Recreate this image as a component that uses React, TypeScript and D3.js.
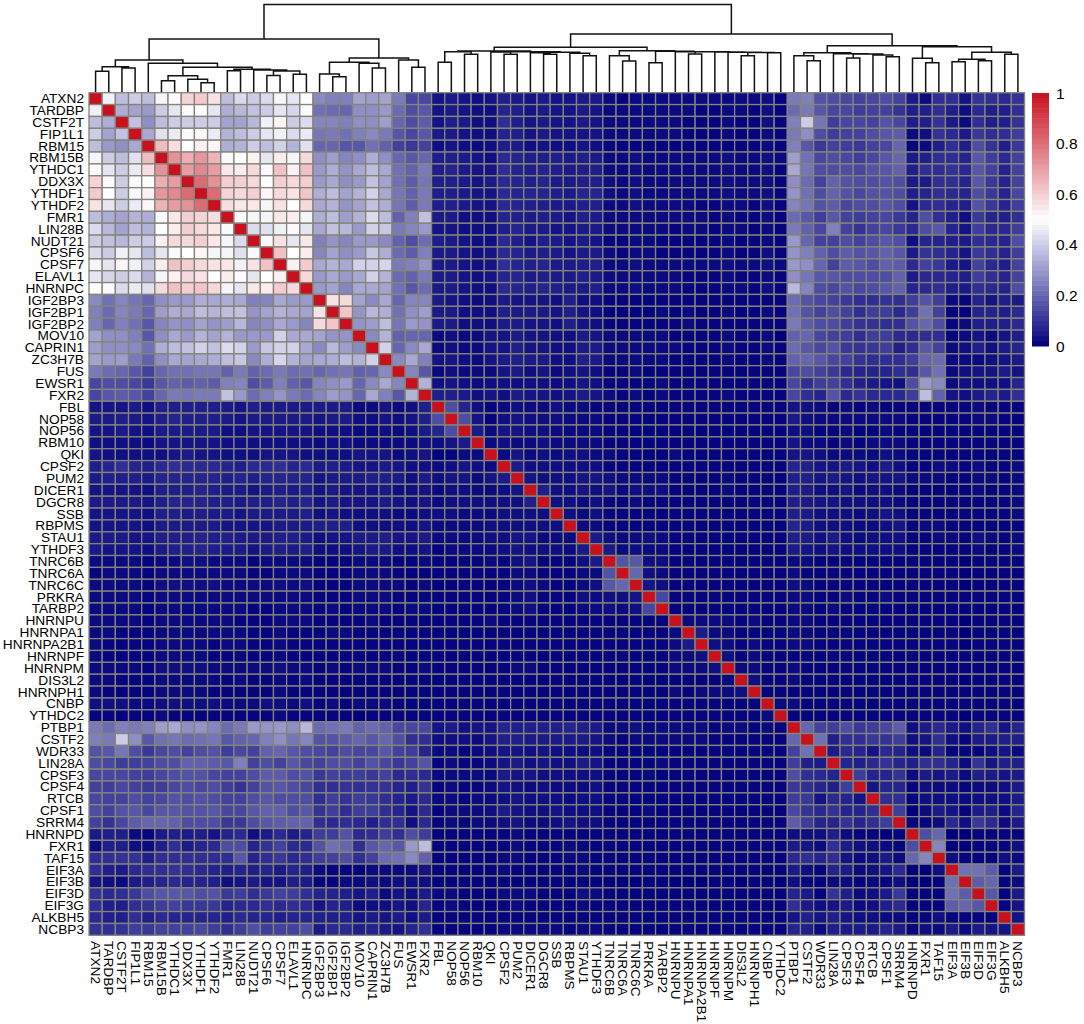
import React from 'react';
import * as d3 from 'd3';

const labels = [
  'ATXN2', 'TARDBP', 'CSTF2T', 'FIP1L1', 'RBM15', 'RBM15B', 'YTHDC1', 'DDX3X', 'YTHDF1', 'YTHDF2',
  'FMR1', 'LIN28B', 'NUDT21', 'CPSF6', 'CPSF7', 'ELAVL1', 'HNRNPC', 'IGF2BP3', 'IGF2BP1', 'IGF2BP2',
  'MOV10', 'CAPRIN1', 'ZC3H7B', 'FUS', 'EWSR1', 'FXR2', 'FBL', 'NOP58', 'NOP56', 'RBM10',
  'QKI', 'CPSF2', 'PUM2', 'DICER1', 'DGCR8', 'SSB', 'RBPMS', 'STAU1', 'YTHDF3', 'TNRC6B',
  'TNRC6A', 'TNRC6C', 'PRKRA', 'TARBP2', 'HNRNPU', 'HNRNPA1', 'HNRNPA2B1', 'HNRNPF', 'HNRNPM', 'DIS3L2',
  'HNRNPH1', 'CNBP', 'YTHDC2', 'PTBP1', 'CSTF2', 'WDR33', 'LIN28A', 'CPSF3', 'CPSF4', 'RTCB',
  'CPSF1', 'SRRM4', 'HNRNPD', 'FXR1', 'TAF15', 'EIF3A', 'EIF3B', 'EIF3D', 'EIF3G', 'ALKBH5', 'NCBP3',
];

// lower triangle of the similarity matrix, in percent (the matrix is symmetric, diagonal = 100)
const lower: number[][] = [
  [],
  [47],
  [37,34],
  [40,32,38],
  [37,30,28,33],
  [48,40,37,44,64],
  [51,45,40,46,57,73],
  [59,49,40,49,50,67,71],
  [61,50,40,49,53,72,75,81],
  [56,45,40,46,52,66,71,73,81],
  [37,34,32,35,34,49,55,60,59,57],
  [43,36,32,37,35,50,54,60,58,55,49],
  [40,38,36,40,40,53,58,58,60,55,48,43],
  [43,40,47,45,37,45,49,50,52,48,48,44,49],
  [48,45,52,47,41,54,63,60,58,56,55,47,56,63],
  [45,42,40,43,35,48,53,58,56,50,54,51,45,50,53],
  [50,49,43,46,44,58,63,60,62,58,48,45,55,54,61,58],
  [27,22,26,23,20,28,30,30,34,33,34,33,25,26,33,30,30],
  [25,21,26,24,20,31,34,33,37,35,37,38,29,32,35,33,32,56],
  [25,20,25,22,17,26,29,28,32,29,31,36,26,28,33,30,26,58,62],
  [32,28,28,25,17,28,33,30,35,32,35,30,30,30,41,33,33,32,29,29],
  [31,28,28,27,22,34,37,38,41,38,43,41,30,39,41,41,33,27,36,31,27],
  [32,30,31,24,19,28,33,32,33,34,37,39,27,34,42,35,32,33,34,37,35,41],
  [24,21,20,17,13,20,22,22,23,23,19,24,19,21,24,21,22,20,22,23,19,20,27],
  [14,15,15,14,11,17,19,18,19,18,25,26,15,18,25,19,17,26,28,30,20,27,33,26],
  [14,17,18,17,13,20,24,23,24,24,38,30,21,25,29,24,21,26,31,29,20,33,25,17,35],
  [4,4,4,5,3,6,6,6,6,6,5,4,6,5,5,5,5,5,5,5,2,2,4,2,3,6],
  [5,5,6,5,4,6,7,6,6,6,5,4,5,5,5,5,5,4,5,5,3,3,4,3,4,6,15],
  [4,4,5,4,3,5,5,5,5,5,3,3,4,4,4,4,4,3,3,3,2,2,3,2,3,5,7,15],
  [3,3,3,3,2,4,4,4,4,4,3,3,3,3,3,3,3,2,3,3,2,2,2,2,2,3,3,4,5],
  [4,3,3,3,3,3,4,5,4,4,3,3,3,4,4,4,3,3,3,3,4,4,4,2,3,4,1,1,2,2],
  [6,7,9,7,6,8,9,8,8,8,7,6,8,8,9,7,8,5,6,5,4,4,5,4,3,3,2,3,4,3,2],
  [5,6,6,6,5,7,7,7,7,7,6,7,6,7,7,7,7,4,5,5,5,6,6,5,3,5,3,4,4,2,4,5],
  [4,4,4,4,3,6,6,6,7,6,5,5,4,5,6,5,6,4,5,4,4,4,5,3,3,4,2,3,3,2,2,3,4],
  [5,5,5,5,4,6,7,7,7,6,6,5,6,6,7,6,7,4,5,4,4,4,5,4,3,4,2,3,3,3,3,3,3,6],
  [4,4,4,4,3,6,6,5,6,5,5,4,5,5,5,5,6,3,4,3,3,3,3,2,2,3,3,3,2,2,2,3,3,3,3],
  [4,4,4,4,3,5,5,5,5,5,4,4,4,4,5,5,5,6,6,6,3,3,3,3,3,4,2,2,2,2,3,3,3,3,3,3],
  [5,5,5,4,4,6,6,6,7,6,6,5,5,5,6,6,5,3,4,4,5,5,6,4,4,5,2,2,2,2,3,3,4,4,2,2,2],
  [5,4,4,4,3,5,6,6,7,6,5,5,4,5,6,5,6,3,3,3,4,5,5,3,3,4,1,2,2,2,2,3,4,3,3,3,2,5],
  [2,2,2,2,1,2,2,3,3,2,2,2,1,2,2,2,2,1,1,1,2,2,2,1,1,2,1,1,1,1,2,1,3,4,1,1,1,3,5],
  [1,2,2,2,1,2,2,2,2,2,2,2,1,1,2,2,2,1,1,1,2,2,2,1,1,1,1,1,1,1,1,1,2,2,1,1,1,2,2,16],
  [2,2,2,2,1,3,3,3,3,3,2,2,2,2,3,2,3,1,1,1,2,2,2,2,1,2,1,1,1,1,1,1,2,3,2,1,1,2,3,17,20],
  [2,2,2,2,1,2,2,2,2,2,2,2,2,2,2,2,2,1,1,1,2,2,2,1,1,1,1,1,1,1,1,1,2,3,1,1,1,3,2,3,3,4],
  [2,2,2,2,1,2,2,2,2,2,2,2,1,1,2,2,2,1,2,1,2,2,2,1,2,2,1,1,1,1,1,1,2,3,1,1,1,2,2,3,2,3,14],
  [2,2,2,2,1,2,2,2,2,2,2,1,1,1,2,2,2,1,1,1,1,2,1,1,1,1,1,1,1,1,2,1,1,1,1,1,1,1,1,1,1,1,1,1],
  [2,2,1,1,1,2,2,2,2,2,2,2,1,1,2,1,1,1,2,2,1,1,1,1,1,1,1,1,1,1,1,1,1,1,1,1,1,1,1,1,1,1,1,1,2],
  [2,1,1,1,1,2,2,2,2,1,2,2,1,1,2,1,1,1,1,1,1,1,1,1,1,1,1,1,1,1,1,1,1,1,1,1,1,1,1,1,1,1,1,1,2,5],
  [2,1,1,1,1,2,2,2,2,1,1,1,1,1,2,1,1,1,1,1,1,1,1,1,1,1,1,1,1,1,1,1,1,1,1,1,1,1,1,1,1,1,1,1,2,2,3],
  [2,2,2,2,1,3,3,3,3,2,2,2,2,2,3,2,2,1,2,1,2,2,2,1,1,2,1,1,1,1,1,1,2,2,1,1,1,1,1,1,1,1,1,1,2,2,2,3],
  [2,2,1,1,1,2,2,2,2,2,1,2,1,1,2,1,2,1,1,1,1,1,1,1,1,1,1,1,1,1,1,1,1,1,1,1,1,1,1,1,1,1,1,1,1,1,1,1,2],
  [2,1,1,1,1,2,2,2,2,1,1,1,1,1,2,1,1,1,1,1,1,1,1,1,1,1,1,1,1,1,1,1,1,1,1,1,1,1,1,1,1,1,1,1,2,1,2,2,2,3],
  [3,3,3,2,2,3,3,3,3,3,2,2,2,3,3,2,3,1,2,1,2,2,2,1,1,1,1,1,1,1,1,1,1,1,1,1,1,1,1,1,1,1,1,1,1,1,1,1,1,1,1],
  [1,1,1,1,1,2,1,1,1,1,1,1,1,1,2,1,1,1,1,1,0,1,1,1,1,1,1,1,1,1,1,1,1,1,1,1,1,1,1,1,1,1,1,1,1,1,1,1,1,1,1,2],
  [24,21,25,24,25,31,33,28,29,26,21,24,30,29,30,28,36,21,22,24,19,21,19,14,14,14,4,5,3,4,4,7,6,6,6,6,7,6,5,2,2,3,2,2,2,2,2,1,2,2,1,2,1],
  [25,24,40,28,17,22,23,21,22,23,17,19,20,25,28,23,26,16,16,18,20,17,20,15,9,9,3,3,3,2,4,6,6,5,5,5,5,5,4,2,1,2,2,2,2,2,2,1,1,1,1,1,1,20],
  [16,17,23,15,11,14,15,13,15,16,12,14,13,19,20,17,15,14,13,15,14,14,17,13,12,7,2,2,1,2,3,4,4,3,4,3,3,3,3,1,1,1,1,1,1,1,1,1,1,1,1,1,1,13,22],
  [15,14,12,12,13,15,15,19,19,18,17,25,13,15,13,17,14,13,15,15,13,16,14,11,13,16,1,2,1,1,2,4,5,3,4,3,3,5,4,1,1,1,1,2,1,1,1,1,1,1,1,1,1,12,6,5],
  [14,14,14,13,12,14,15,16,16,14,13,13,15,18,18,15,16,11,13,12,12,11,13,8,9,8,2,2,2,2,2,5,4,4,3,3,3,3,3,1,1,1,2,1,1,1,1,1,1,1,1,1,1,15,9,8,7],
  [13,12,14,13,11,12,14,15,14,15,12,10,13,16,17,15,14,9,9,10,9,10,10,7,6,10,1,2,1,1,2,4,3,2,3,2,2,2,3,1,1,1,1,1,1,1,1,1,1,1,1,1,1,11,9,7,6,12],
  [14,13,13,15,13,14,16,15,16,15,13,13,15,17,15,15,15,9,12,10,12,11,9,7,5,8,2,2,1,2,2,3,4,3,3,3,2,3,3,1,1,1,1,1,1,1,1,1,1,1,1,1,1,12,11,4,8,7,4],
  [15,13,16,17,14,17,17,16,16,17,14,14,17,19,19,15,17,10,12,9,12,12,9,7,4,8,1,2,2,2,3,5,4,3,3,4,3,3,3,1,1,1,2,1,1,1,1,1,1,1,1,1,1,14,10,8,10,7,7,9],
  [13,10,14,18,20,20,19,15,15,15,11,11,15,17,18,19,19,9,8,9,8,6,9,9,3,8,1,2,1,2,2,3,4,2,2,3,4,3,3,1,1,1,1,1,1,1,1,1,1,1,1,1,1,18,12,7,7,10,7,9,12],
  [5,6,6,2,1,5,6,5,6,4,7,8,3,5,8,5,7,12,12,16,8,9,12,9,15,12,1,1,1,1,1,1,2,1,1,1,1,1,1,1,1,1,1,1,1,1,1,1,1,1,1,1,1,3,3,3,6,2,1,1,0,1],
  [2,6,6,3,2,6,9,5,7,8,15,15,7,10,13,8,8,16,22,20,9,17,20,17,30,37,1,1,1,1,1,1,2,1,1,1,2,1,1,1,1,1,1,1,1,1,1,1,1,1,1,1,1,5,4,2,9,5,3,3,2,1,15],
  [9,9,10,10,6,9,9,9,9,9,9,17,7,9,11,8,9,12,13,15,9,13,21,22,27,19,1,1,1,1,1,2,2,1,1,1,2,2,1,1,1,1,1,1,1,1,1,1,1,1,1,1,1,8,9,7,9,4,2,3,5,2,20,26],
  [9,6,5,8,9,9,10,9,8,7,6,7,6,7,5,7,6,2,1,1,1,2,2,2,2,4,1,1,1,1,1,2,1,1,1,1,1,2,1,1,1,1,1,1,1,1,1,1,1,1,1,1,1,5,3,1,7,5,2,3,4,8,0,0,3],
  [4,3,2,5,6,7,8,7,7,6,3,4,5,4,4,6,5,1,1,2,2,3,2,3,3,3,1,1,1,1,1,1,1,1,1,1,1,1,1,0,0,0,1,1,0,0,0,1,1,0,1,1,0,3,1,1,2,2,1,2,1,3,0,0,1,22],
  [10,8,9,11,15,17,17,17,15,16,11,12,9,11,13,12,9,7,7,6,4,6,2,4,3,5,2,2,1,1,1,2,2,2,1,1,1,3,2,1,1,1,1,1,1,1,1,1,1,1,1,1,1,7,5,1,10,6,2,3,5,11,1,1,1,22,18],
  [9,6,6,9,10,12,13,11,11,11,7,8,8,9,8,9,8,4,7,6,2,3,3,4,3,7,1,2,1,1,1,1,2,1,1,1,1,2,1,1,1,1,1,1,1,1,1,1,1,1,1,1,1,9,5,3,4,5,2,3,6,8,1,1,1,18,20,17],
  [8,6,6,9,6,8,7,7,7,7,6,8,7,7,6,7,7,6,6,6,4,5,4,5,3,5,1,1,1,1,1,1,1,1,1,1,1,1,1,1,1,1,1,1,1,1,1,1,1,1,1,1,1,4,6,4,6,4,3,3,2,2,1,1,3,1,1,1,1],
  [10,9,10,12,11,13,13,13,14,12,9,12,15,12,13,13,15,5,8,8,6,7,5,4,7,9,1,1,1,1,1,2,2,2,2,2,1,2,2,1,1,1,1,1,1,1,1,1,1,1,1,1,1,7,6,2,6,5,5,5,7,5,1,3,2,5,2,5,4,4],
];

const legendTicks = [0, 0.2, 0.4, 0.6, 0.8, 1];
const legendSteps = d3.range(0, 50);

// dendrogram: [merge height in % of the root, left, right], leaves are gene names
type Merge = string | [number, Merge, Merge];

const leftBranch: Merge = [60.9,
  [37,
    [29.5, [24.3, 'ATXN2', 'TARDBP'], [28, 'CSTF2T', 'FIP1L1']],
    [33.3, 'RBM15',
      [28.8,
        [19.3, [13.6, 'RBM15B', 'YTHDC1'], [15.2, 'DDX3X', [11.3, 'YTHDF1', 'YTHDF2']]],
        [26.5, [24.9, 'FMR1', 'LIN28B'],
          [25.7, 'NUDT21', [24.6, [19.5, 'CPSF6', 'CPSF7'], [21, 'ELAVL1', 'HNRNPC']]]],
      ]],
  ],
  [39.3,
    [34.5,
      [21.2, 'IGF2BP3', [18.1, 'IGF2BP1', 'IGF2BP2']],
      [33.3, 'MOV10', [28, 'CAPRIN1', 'ZC3H7B']]],
    [37, 'FUS', [28.8, 'EWSR1', 'FXR2']],
  ],
];

const middleBranch: Merge = [51.5,
  [47.3,
    [46.5, [34.5, 'FBL', 'NOP58'], [43.5, 'NOP56', 'RBM10']],
    [46.4,
      [46.1, 'QKI', [43.5, 'CPSF2', 'PUM2']],
      [45.8,
        [45.4, 'DICER1', [43.5, 'DGCR8', 'SSB']],
        [44.7, 'RBPMS', [42, 'STAU1', 'YTHDF3']]]],
  ],
  [47.6,
    [42, 'TNRC6B', [35.9, 'TNRC6A', 'TNRC6C']],
    [46.9,
      [34, 'PRKRA', 'TARBP2'],
      [46.5, 'HNRNPU',
        [46.3, [43.9, 'HNRNPA1', 'HNRNPA2B1'],
          [46.1, 'HNRNPF',
            [45.9, 'HNRNPM',
              [45.7, [42, 'DIS3L2', 'HNRNPH1'], [45.4, 'CNBP', 'YTHDC2']]]]]]],
  ],
];

const rightBranch: Merge = [53.3,
  [45.4,
    [42, 'PTBP1', [36.3, 'CSTF2', 'WDR33']],
    [44.2, 'LIN28A',
      [44, [39.3, 'CPSF3', 'CPSF4'], [42.7, 'RTCB', [40.8, 'CPSF1', 'SRRM4']]]],
  ],
  [52.2,
    [39, 'HNRNPD', [34, 'FXR1', 'TAF15']],
    [45.8,
      [37.9, [35.1, 'EIF3A', 'EIF3B'], [36.3, 'EIF3D', 'EIF3G']],
      [43.5, 'ALKBH5', 'NCBP3']],
  ],
];

const tree: Merge = [100, leftBranch, [66.6, middleBranch, rightBranch]];

const x = d3.scaleBand<string>().domain(labels).range([89, 1024.5]);
const y = d3.scaleBand<string>().domain(labels).range([92.7, 935.3]);
const heightY = d3.scaleLinear().domain([0, 100]).range([92.7, 4.5]);
const legendY = d3.scaleLinear().domain([0, 1]).range([346, 93]);
const color = d3.scaleLinear<string>().domain([0, 0.5, 1]).range(['#00007c', '#ffffff', '#c8101e']);

const valueAt = (i: number, j: number) => {
  if (i === j) return 1;
  const [a, b] = i > j ? [i, j] : [j, i];
  return (lower[a][b] ?? 0) / 100;
};

const dendrogramPath = () => {
  const root = d3.hierarchy<Merge>(tree, d => (typeof d === 'string' ? null : [d[1], d[2]]));
  const pos = new Map<any, { px: number; h: number }>();
  root.eachAfter(n => {
    if (typeof n.data === 'string') {
      pos.set(n, { px: x(n.data)! + x.bandwidth() / 2, h: 0 });
    } else {
      const kids = n.children!.map(c => pos.get(c)!);
      pos.set(n, { px: d3.mean(kids, k => k.px)!, h: n.data[0] });
    }
  });
  const p = d3.path();
  root.each(n => {
    if (!n.children) return;
    const [a, b] = n.children.map(c => pos.get(c)!);
    const top = heightY(pos.get(n)!.h);
    p.moveTo(a.px, heightY(a.h));
    p.lineTo(a.px, top);
    p.lineTo(b.px, top);
    p.lineTo(b.px, heightY(b.h));
  });
  return p.toString();
};

const font = '"Liberation Sans", Arial, sans-serif';

export default function App() {
  return (
    <svg width={1084} height={1024} style={{ position: 'absolute', left: 0, top: 0, background: '#fff' }} fontFamily={font}>
      <path d={dendrogramPath()} fill="none" stroke="#111" strokeWidth={1.5} />

      {labels.map((rowName, i) =>
        labels.map((colName, j) => (
          <rect
            key={rowName + colName}
            x={x(colName)}
            y={y(rowName)}
            width={x.bandwidth()}
            height={y.bandwidth()}
            fill={color(valueAt(i, j))}
            stroke="#84847c"
            strokeWidth={1.3}
          />
        ))
      )}

      {labels.map(name => (
        <text key={name} x={84} y={y(name)! + y.bandwidth() / 2} textAnchor="end" dominantBaseline="central" fontSize={13.7} fill="#000">
          {name}
        </text>
      ))}
      {labels.map(name => (
        <text
          key={name}
          transform={`translate(${x(name)! + x.bandwidth() / 2},941) rotate(90)`}
          dominantBaseline="central"
          fontSize={13.7}
          fill="#000"
        >
          {name}
        </text>
      ))}

      {/* colour key */}
      {legendSteps.map(s => (
        <rect
          key={s}
          x={1032}
          y={legendY((s + 1) / 50)}
          width={17}
          height={legendY(s / 50) - legendY((s + 1) / 50) + 0.5}
          fill={color((s + 0.5) / 50)}
        />
      ))}
      {legendTicks.map(t => (
        <text key={t} x={1056} y={legendY(t)} dominantBaseline="central" fontSize={15.5} fill="#000">
          {t}
        </text>
      ))}
    </svg>
  );
}
